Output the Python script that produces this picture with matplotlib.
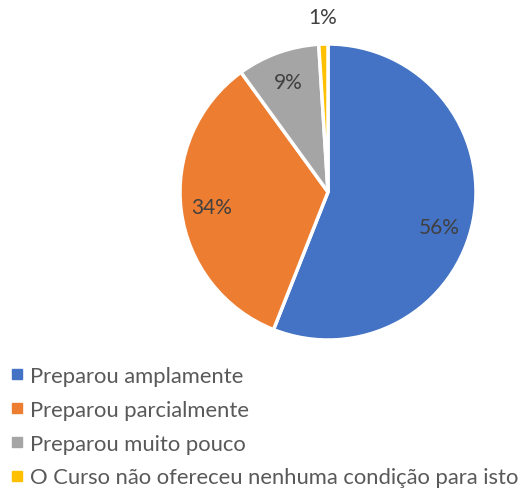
import numpy as np
import matplotlib
matplotlib.use("Agg")
import matplotlib.pyplot as plt
from matplotlib.lines import Line2D

categories = [
    "Preparou amplamente",
    "Preparou parcialmente",
    "Preparou muito pouco",
    "O Curso não ofereceu nenhuma condição para isto",
]
values = [56, 34, 9, 1]
labels = ["56%", "34%", "9%", "1%"]
colors = ["#4472C4", "#ED7D31", "#A5A5A5", "#FFC000"]

plt.rcParams["font.family"] = ["Lato", "DejaVu Sans"]

fig = plt.figure(figsize=(5.27, 4.89), dpi=100)
ax = fig.add_axes([180 / 527, 148 / 489, 296 / 527, 296 / 489])

wedges, _ = ax.pie(values, colors=colors, startangle=90, counterclock=False,
                   radius=1.0, wedgeprops=dict(edgecolor="white", linewidth=2.5))
ax.set_xlim(-1, 1)
ax.set_ylim(-1, 1)
ax.set_aspect("equal")
ax.axis("off")

# data labels (Excel nudges the big one a bit lower)
angle_nudge = [-6.5, 0, 0, 0]
total = sum(values)
start = 90.0
for v, lab, nudge in zip(values, labels, angle_nudge):
    sweep = 360.0 * v / total
    mid = np.deg2rad(start - sweep / 2 + nudge)
    dist = 0.79 if v / total > 0.05 else 1.18
    ax.text(dist * np.cos(mid), dist * np.sin(mid), lab, ha="center", va="center",
            fontsize=15, color="#404040", clip_on=False)
    start -= sweep

handles = [Line2D([0], [0], marker="s", linestyle="none", markersize=6.5,
                  markerfacecolor=c, markeredgecolor=c) for c in colors]
fig.legend(handles, categories, loc="upper left", bbox_to_anchor=(12 / 527, 1 - 367 / 489),
           frameon=False, fontsize=15.8, labelcolor="#595959", handlelength=0.5,
           handletextpad=0.32, labelspacing=0.63, borderpad=0, borderaxespad=0)

fig.savefig("out.png", dpi=100)
